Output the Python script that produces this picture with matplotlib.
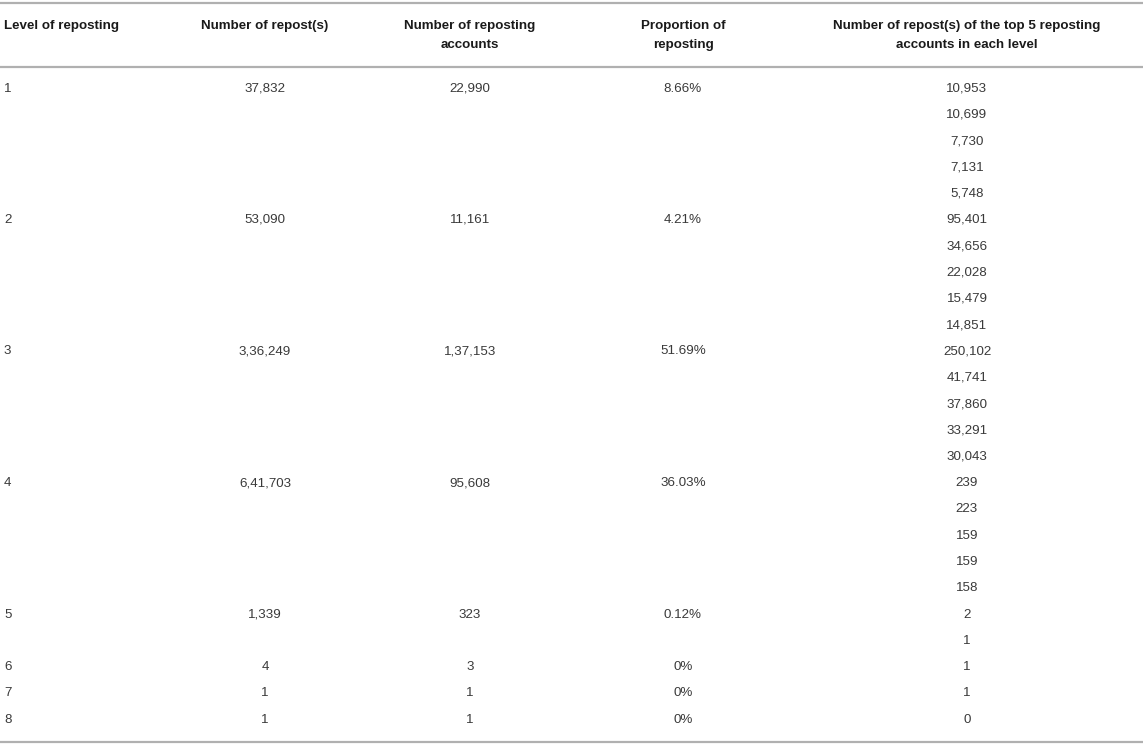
import matplotlib.pyplot as plt

plt.rcParams['font.family'] = ['Liberation Sans', 'DejaVu Sans']

# Table contents
headers = ["Level of reposting", "Number of repost(s)", "Number of reposting\naccounts",
           "Proportion of\nreposting", "Number of repost(s) of the top 5 reposting\naccounts in each level"]
levels = ["1", "2", "3", "4", "5", "6", "7", "8"]
reposts = ["37,832", "53,090", "3,36,249", "6,41,703", "1,339", "4", "1", "1"]
accounts = ["22,990", "11,161", "1,37,153", "95,608", "323", "3", "1", "1"]
proportion = ["8.66%", "4.21%", "51.69%", "36.03%", "0.12%", "0%", "0%", "0%"]
top5 = [
    ["10,953", "10,699", "7,730", "7,131", "5,748"],
    ["95,401", "34,656", "22,028", "15,479", "14,851"],
    ["250,102", "41,741", "37,860", "33,291", "30,043"],
    ["239", "223", "159", "159", "158"],
    ["2", "1"],
    ["1"],
    ["1"],
    ["0"],
]

W, H = 1143, 746
fig = plt.figure(figsize=(W / 100, H / 100), dpi=100)
ax = fig.add_axes([0, 0, 1, 1])
ax.set_xlim(0, W)
ax.set_ylim(H, 0)
ax.axis('off')

col_x = [4, 265, 470, 683, 967]
col_ha = ['left', 'center', 'center', 'center', 'center']
head_color = '#1a1a1a'
body_color = '#3a3a3a'
line_color = '#b0b0b0'
fs = 9.6

# rules
for y in (3, 67, 742):
    ax.plot([0, W], [y, y], color=line_color, lw=1.6, solid_capstyle='butt')

# header
for x, ha, h in zip(col_x, col_ha, headers):
    ax.text(x, 19.5, h, ha=ha, va='top', fontsize=fs, fontweight='bold',
            color=head_color, linespacing=1.85)

# body
row0, step = 88.5, 26.3
row = 0
for i in range(len(levels)):
    y = row0 + row * step
    for x, ha, v in zip(col_x[:4], col_ha[:4], [levels[i], reposts[i], accounts[i], proportion[i]]):
        ax.text(x, y, v, ha=ha, va='center', fontsize=fs, color=body_color)
    for k, v in enumerate(top5[i]):
        ax.text(col_x[4], row0 + (row + k) * step, v, ha='center', va='center',
                fontsize=fs, color=body_color)
    row += len(top5[i])

fig.savefig('out.png', dpi=100)
